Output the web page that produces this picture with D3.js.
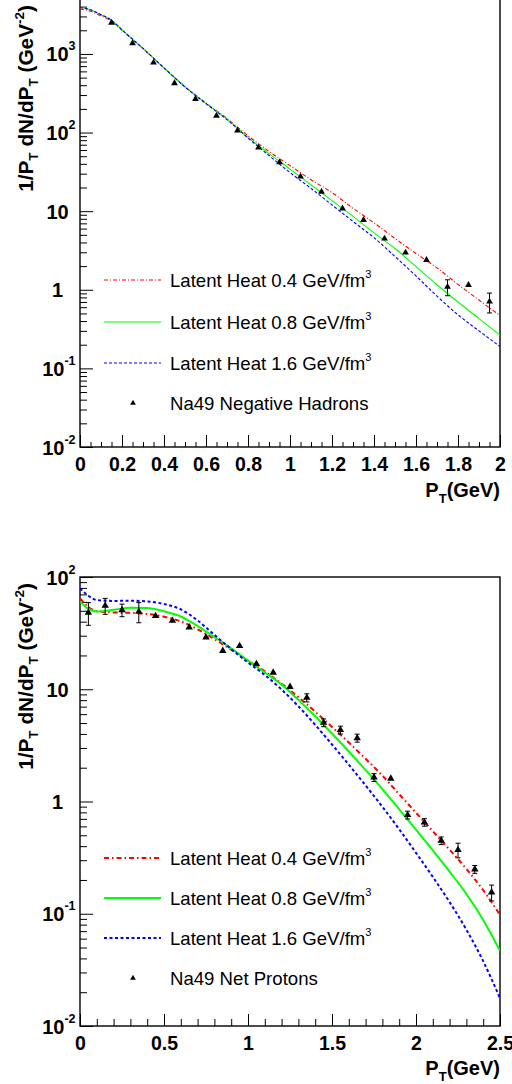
<!DOCTYPE html>
<html><head><meta charset="utf-8">
<script src="https://cdn.jsdelivr.net/npm/d3@7"></script>
<style>
body{margin:0;background:#fff;}
text{font-family:"Liberation Sans",Arial,Helvetica,sans-serif;fill:#000;}
</style>
</head><body>
<svg id="chart" width="512" height="1084"></svg>
<script>
// ---------------- DATA ----------------
// Panel 1: negative hadrons
const hadPt   = [0,0.05,0.1,0.15,0.2,0.3,0.4,0.5,0.6,0.7,0.8,0.9,1.0,1.1,1.2,1.3,1.4,1.5,1.6,1.7,1.8,1.9,2.0];
const hadLH04 = [3750,3500,3050,2620,2000,1170,664,384,238,151,91,57.5,38,25.1,17.2,10.9,7.1,4.5,2.9,1.9,1.17,0.74,0.47];
const hadLH08 = [3930,3650,3160,2690,2025,1175,664,382,235,148,87,54,34.3,21.6,13.6,8.6,5.3,3.35,1.97,1.16,0.70,0.43,0.265];
const hadLH16 = [3900,3640,3160,2690,2025,1175,664,380,233,146,85,51,31,19.5,12.0,7.4,4.6,2.65,1.5,0.83,0.48,0.30,0.19];
const hadDataPt  = [0.15,0.25,0.35,0.45,0.55,0.65,0.75,0.85,0.95,1.05,1.15,1.25,1.35,1.45,1.55,1.65,1.75,1.85,1.95];
const hadDataVal = [2500,1368,775,424,267,164,106,64.3,41.9,27.5,17.7,10.8,7.73,4.47,2.97,2.39,1.09,1.15,0.707];
const hadDataErr = [20,12,7,4,2.5,1.5,1,0.6,0.4,0.3,0.2,0.15,0.12,0.08,0.08,0.1,0.25,0.1,0.2];

// Panel 2: net protons
const protPt   = [0,0.05,0.1,0.2,0.3,0.4,0.5,0.6,0.7,0.8,0.9,1.0,1.1,1.2,1.3,1.4,1.5,1.6,1.7,1.8,1.9,2.0,2.1,2.2,2.3,2.4,2.5];
const protLH04 = [64.6,54,49.6,48.3,47.9,46.9,44.3,40.2,34.2,28,22.5,18,14.45,11.2,8.51,6.31,4.62,3.35,2.40,1.70,1.16,0.794,0.543,0.372,0.251,0.162,0.0977];
const protLH08 = [60.3,52,49.3,51,53.3,53,49.5,44.5,36.5,29.2,23.1,18,14.1,11.0,8.04,5.75,4.03,2.79,1.905,1.288,0.851,0.562,0.367,0.237,0.150,0.0881,0.0468];
const protLH16 = [79.3,68,62.4,61.2,61.5,60.5,57.5,51.5,41,30.5,22.8,17.3,13.4,9.95,7.05,4.82,3.22,2.13,1.39,0.897,0.566,0.349,0.213,0.127,0.0721,0.0378,0.0177];
const protDataPt  = [0.05,0.15,0.25,0.35,0.45,0.55,0.65,0.75,0.85,0.95,1.05,1.15,1.25,1.35,1.45,1.55,1.65,1.75,1.85,1.95,2.05,2.15,2.25,2.35,2.45];
const protDataVal = [48.1,55.5,50.8,49.1,45.0,40.8,35.6,29.0,22.0,24.3,16.8,14.1,10.5,8.41,5.04,4.34,3.68,1.64,1.60,0.759,0.653,0.448,0.370,0.249,0.155];
const protDataErr = [11,9,6.5,10,2.8,2.5,2.2,1.8,1.4,1.0,0.8,0.9,0.7,0.7,0.4,0.35,0.3,0.13,0.1,0.06,0.05,0.035,0.055,0.02,0.025];

// Tick labels
const hadXTicks  = [0,0.2,0.4,0.6,0.8,1,1.2,1.4,1.6,1.8,2];
const hadXLabels = ["0","0.2","0.4","0.6","0.8","1","1.2","1.4","1.6","1.8","2"];
const hadYTicks  = [0.01,0.1,1,10,100,1000];
const protXTicks  = [0,0.5,1,1.5,2,2.5];
const protXLabels = ["0","0.5","1","1.5","2","2.5"];
const protYTicks  = [0.01,0.1,1,10,100];

const seriesNames = ["Latent Heat 0.4 GeV/fm","Latent Heat 0.8 GeV/fm","Latent Heat 1.6 GeV/fm"];
const hadDataName  = "Na49 Negative Hadrons";
const protDataName = "Na49 Net Protons";

// ---------------- DRAW ----------------
const svg = d3.select("#chart");
const LABEL_FONT = "Liberation Sans, Arial, sans-serif";

function panel(cfg) {
  const g = svg.append("g");
  const x = d3.scaleLinear().domain(cfg.xDomain).range([80, 500]);
  const y = d3.scaleLog().domain(cfg.yDomain).range(cfg.yRange);
  const [y0, y1] = cfg.yRange;
  const clipId = "clip" + cfg.id;
  svg.append("clipPath").attr("id", clipId).append("rect")
    .attr("x", 80).attr("y", y1).attr("width", 420).attr("height", y0 - y1);

  // minor x ticks
  g.append("g").attr("transform", `translate(0,${y0})`)
    .call(d3.axisBottom(x).tickValues(cfg.xMinor).tickSize(-cfg.xMinorLen).tickSizeOuter(0).tickFormat(""))
    .call(a => a.select(".domain").remove());
  // major x ticks + labels
  const xa = g.append("g").attr("transform", `translate(0,${y0})`)
    .call(d3.axisBottom(x).tickValues(cfg.xTicks).tickSize(-12).tickSizeOuter(0)
      .tickPadding(cfg.xPad).tickFormat((d, i) => cfg.xLabels[i]));
  xa.select(".domain").remove();
  xa.selectAll("text").attr("font-family", LABEL_FONT).attr("font-size", 19.5).attr("font-weight", "bold").attr("fill", "#000");
  xa.selectAll("line").attr("stroke", "#000");

  // y minor ticks (2..9 per decade)
  const minors = [];
  cfg.yTicks.forEach(d => { for (let k = 2; k <= 9; k++) { const v = d * k; if (v <= cfg.yDomain[1]) minors.push(v); } });
  g.append("g").attr("transform", "translate(80,0)")
    .call(d3.axisLeft(y).tickValues(minors).tickSize(-7).tickSizeOuter(0).tickFormat(""))
    .call(a => a.select(".domain").remove());
  g.append("g").attr("transform", "translate(80,0)")
    .call(d3.axisLeft(y).tickValues(cfg.yTicks).tickSize(-13).tickSizeOuter(0).tickFormat(""))
    .call(a => a.select(".domain").remove());

  // y labels
  cfg.yTicks.forEach(v => {
    const e = Math.round(Math.log10(v));
    const ty = y(v) + 7.5;
    if (e === 0 || e === 1) {
      g.append("text").attr("x", 57.5).attr("y", ty).attr("text-anchor", "middle")
        .attr("font-size", 20).attr("font-weight", "bold").text(e === 0 ? "1" : "10");
    } else {
      const t = g.append("text").attr("x", 75.5).attr("y", ty).attr("text-anchor", "end")
        .attr("font-size", 20).attr("font-weight", "bold");
      t.append("tspan").text("10");
      t.append("tspan").attr("font-size", 12.5).attr("dy", -11).text(e < 0 ? "-" + (-e) : String(e));
    }
  });

  // frame
  g.append("rect").attr("x", 80).attr("y", y1).attr("width", 420).attr("height", y0 - y1)
    .attr("fill", "none").attr("stroke", "#000").attr("stroke-width", 1.4);

  // curves
  const line = d3.line().x(d => x(d[0])).y(d => y(d[1])).curve(d3.curveMonotoneX);
  const cg = g.append("g").attr("clip-path", `url(#${clipId})`);
  cfg.curves.forEach(c => {
    cg.append("path").datum(cfg.curvePt.map((p, i) => [p, c.vals[i]]))
      .attr("d", line).attr("fill", "none").attr("stroke", c.color)
      .attr("stroke-width", cfg.lw).attr("stroke-dasharray", c.dash);
  });

  // data points with error bars
  const dg = cg.append("g");
  cfg.dataPt.forEach((p, i) => {
    const v = cfg.dataVal[i], e = cfg.dataErr[i];
    const px = x(p), yl = y(Math.max(v - e, 1e-3)), yh = y(v + e);
    if (Math.abs(yl - yh) > 7) {
      dg.append("line").attr("x1", px).attr("x2", px).attr("y1", yl).attr("y2", yh).attr("stroke", "#000").attr("stroke-width", 1);
      [yl, yh].forEach(yy => dg.append("line").attr("x1", px - 2.5).attr("x2", px + 2.5).attr("y1", yy).attr("y2", yy).attr("stroke", "#000").attr("stroke-width", 1));
    }
    dg.append("path").attr("d", d3.symbol(d3.symbolTriangle, cfg.markerSize)())
      .attr("transform", `translate(${px},${y(v)})`).attr("fill", "#000");
  });

  // legend
  cfg.curves.forEach((c, i) => {
    const ly = cfg.legendY[i];
    g.append("line").attr("x1", 104).attr("x2", 161).attr("y1", ly).attr("y2", ly)
      .attr("stroke", c.color).attr("stroke-width", cfg.lw).attr("stroke-dasharray", c.dash);
    const t = g.append("text").attr("x", 170).attr("y", ly + 6.5).attr("font-size", 18.6);
    t.append("tspan").text(seriesNames[i]);
    t.append("tspan").attr("font-size", 11).attr("dy", -9).text("3");
  });
  const my = cfg.legendY[3];
  g.append("path").attr("d", d3.symbol(d3.symbolTriangle, 14)()).attr("transform", `translate(133,${my})`).attr("fill", "#000");
  g.append("text").attr("x", 170).attr("y", my + 6.5).attr("font-size", 18.6).text(cfg.dataName);

  // axis titles
  const xt = g.append("text").attr("x", 500).attr("y", cfg.xTitleY).attr("text-anchor", "end")
    .attr("font-size", 20).attr("font-weight", "bold");
  xt.append("tspan").text("P");
  xt.append("tspan").attr("font-size", 13).attr("dy", 6).text("T");
  xt.append("tspan").attr("dy", -6).text("(GeV)");

  const yt = g.append("text").attr("transform", `translate(33,${y1 + 6}) rotate(-90)`)
    .attr("text-anchor", "end").attr("font-size", 20.8).attr("font-weight", "bold");
  yt.append("tspan").text("1/P");
  yt.append("tspan").attr("font-size", 13.5).attr("dy", 5).text("T");
  yt.append("tspan").attr("dy", -5).text(" dN/dP");
  yt.append("tspan").attr("font-size", 13.5).attr("dy", 5).text("T");
  yt.append("tspan").attr("dy", -5).text(" (GeV");
  yt.append("tspan").attr("font-size", 13.5).attr("dy", -9).text("-2");
  yt.append("tspan").attr("dy", 9).text(")");
}

panel({
  id: 1, xDomain: [0, 2], yDomain: [0.01, 5000], yRange: [447, -1],
  xTicks: hadXTicks, xLabels: hadXLabels, xMinor: d3.range(0, 2.001, 0.05), xMinorLen: 5, xPad: 10,
  yTicks: hadYTicks, lw: 1.1, markerSize: 20,
  curvePt: hadPt,
  curves: [
    { vals: hadLH04, color: "#ff0000", dash: "4,2,1,2" },
    { vals: hadLH08, color: "#00ff00", dash: null },
    { vals: hadLH16, color: "#0000ff", dash: "3,2" }
  ],
  dataPt: hadDataPt, dataVal: hadDataVal, dataErr: hadDataErr, dataName: hadDataName,
  legendY: [280, 322, 363, 403], xTitleY: 497
});

panel({
  id: 2, xDomain: [0, 2.5], yDomain: [0.01, 100], yRange: [1026, 577],
  xTicks: protXTicks, xLabels: protXLabels, xMinor: d3.range(0, 2.501, 0.1), xMinorLen: 7, xPad: 10,
  yTicks: protYTicks, lw: 2, markerSize: 24,
  curvePt: protPt,
  curves: [
    { vals: protLH04, color: "#ff0000", dash: "5,3,1.5,3" },
    { vals: protLH08, color: "#00ff00", dash: null },
    { vals: protLH16, color: "#0000ff", dash: "3,2.5" }
  ],
  dataPt: protDataPt, dataVal: protDataVal, dataErr: protDataErr, dataName: protDataName,
  legendY: [858, 898, 938, 978], xTitleY: 1075
});
</script>
</body></html>
